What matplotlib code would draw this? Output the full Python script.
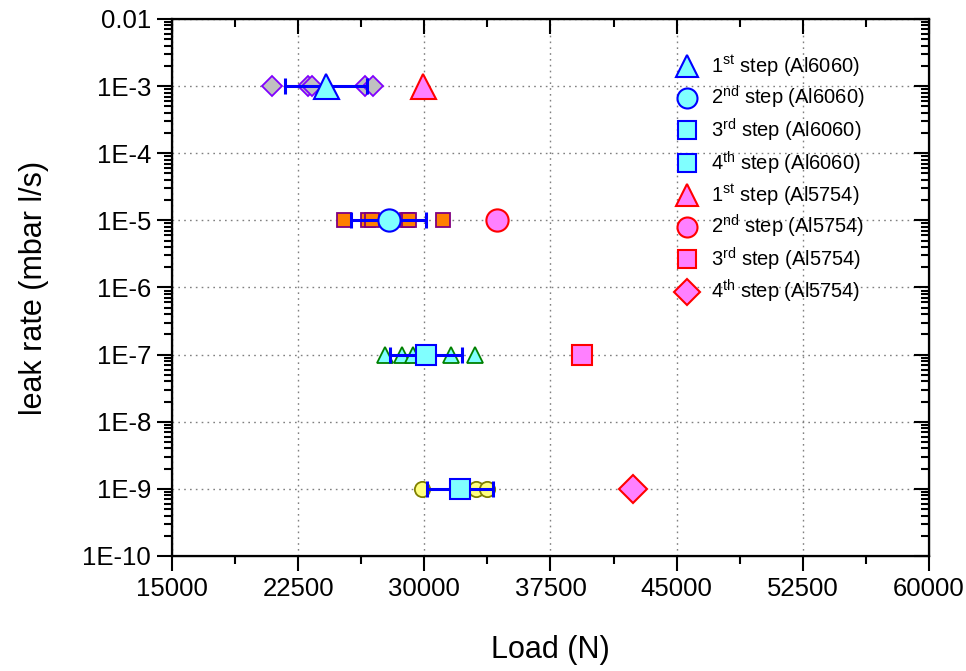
import numpy as np
import matplotlib.pyplot as plt
from matplotlib.ticker import FixedLocator, NullFormatter, LogLocator

plt.rcParams['font.family'] = ['Liberation Sans', 'DejaVu Sans']
plt.rcParams['mathtext.fontset'] = 'custom'
plt.rcParams['mathtext.rm'] = 'Liberation Sans'

# leak rate level of each sealing step
step_rates = [1e-3, 1e-5, 1e-7, 1e-9]

# individual Al6060 tests (load in N)
al6060_raw = [
    [20950, 23100, 23300, 26450, 26950],
    [25230, 26650, 26900, 28950, 29100, 31100],
    [27650, 28700, 29300, 31600, 33000],
    [29850, 33100, 33700],
]
# Al6060 mean load and standard deviation per step
al6060_mean = [24150, 27900, 30100, 32150]
al6060_err = [2450, 2230, 2150, 1960]

# Al5754 load per step
al5754_load = [29900, 34300, 39400, 42400]

xticks = [15000, 22500, 30000, 37500, 45000, 52500, 60000]
xminor = [18750, 26250, 33750, 41250, 48750, 56250]
yticks = [1e-10, 1e-9, 1e-8, 1e-7, 1e-6, 1e-5, 1e-4, 1e-3, 1e-2]
ylabels = ['1E-10', '1E-9', '1E-8', '1E-7', '1E-6', '1E-5', '1E-4', '1E-3', '0.01']

raw_styles = [
    dict(marker='D', ms=10.5, mfc='#C0C0C0', mec='#8000FF'),
    dict(marker='s', ms=9.5, mfc='#FF8000', mec='#800080'),
    dict(marker='^', ms=11, mfc='#80FFFF', mec='#008000'),
    dict(marker='o', ms=11, mfc='#FFFF80', mec='#808000'),
]
main_markers = ['^', 'o', 's', 's']
main_sizes = [18, 16, 15, 15]
al5754_markers = ['^', 'o', 's', 'D']
al5754_sizes = [18, 16, 15, 14.5]
ords = ['st', 'nd', 'rd', 'th']

fig = plt.figure(figsize=(9.66, 6.71), dpi=100)
ax = fig.add_axes([0.178, 0.1714, 0.7837, 0.8003])

for i, rate in enumerate(step_rates):
    xs = al6060_raw[i]
    ax.plot(xs, [rate] * len(xs), ls='none', mew=1.3, zorder=3, **raw_styles[i])
    ax.errorbar([al6060_mean[i]], [rate], xerr=[al6060_err[i]], fmt='none',
                ecolor='#0000FF', elinewidth=2.2, capsize=6, capthick=2.2, zorder=4)

handles = []
for i, rate in enumerate(step_rates):
    h, = ax.plot([al6060_mean[i]], [rate], ls='none', marker=main_markers[i],
                 ms=main_sizes[i], mfc='#80FFFF', mec='#0000FF', mew=1.5, zorder=5,
                 label=f'{i + 1}$^{{\\rm {ords[i]}}}$ step (Al6060)')
    handles.append(h)
for i, rate in enumerate(step_rates):
    h, = ax.plot([al5754_load[i]], [rate], ls='none', marker=al5754_markers[i],
                 ms=al5754_sizes[i], mfc='#FF80FF', mec='#FF0000', mew=1.5, zorder=5,
                 label=f'{i + 1}$^{{\\rm {ords[i]}}}$ step (Al5754)')
    handles.append(h)

ax.set_yscale('log')
ax.set_xlim(15000, 60000)
ax.set_ylim(1e-10, 1e-2)

ax.set_xticks(xticks)
ax.set_xticklabels([str(t) for t in xticks])
ax.xaxis.set_minor_locator(FixedLocator(xminor))
ax.yaxis.set_major_locator(FixedLocator(yticks))
ax.set_yticklabels(ylabels)
ax.yaxis.set_minor_locator(LogLocator(base=10, subs=np.arange(2, 10), numticks=20))
ax.yaxis.set_minor_formatter(NullFormatter())

ax.tick_params(which='major', length=11, width=1.5, labelsize=18.5, direction='out', pad=4)
ax.tick_params(which='minor', length=6, width=1.5, direction='out')
for sp in ax.spines.values():
    sp.set_linewidth(1.6)

# inward ticks on the right and top edges
ax2 = ax.twinx()
ax2.set_yscale('log')
ax2.set_ylim(ax.get_ylim())
ax2.yaxis.set_major_locator(FixedLocator(yticks))
ax2.yaxis.set_minor_locator(LogLocator(base=10, subs=np.arange(2, 10), numticks=20))
ax2.yaxis.set_major_formatter(NullFormatter())
ax2.yaxis.set_minor_formatter(NullFormatter())
ax2.tick_params(which='major', length=11, width=1.5, direction='in')
ax2.tick_params(which='minor', length=6, width=1.5, direction='in')

ax3 = ax.twiny()
ax3.set_xlim(ax.get_xlim())
ax3.set_xticks(xticks)
ax3.xaxis.set_minor_locator(FixedLocator(xminor))
ax3.set_xticklabels([])
ax3.tick_params(which='major', length=11, width=1.5, direction='in')
ax3.tick_params(which='minor', length=6, width=1.5, direction='in')

ax.grid(True, which='major', color='#808080', ls=(0, (1.2, 3)), lw=1)

ax.set_xlabel('Load (N)', fontsize=22)
ax.xaxis.set_label_coords(0.5, -0.148)
ax.set_ylabel('leak rate (mbar l/s)', fontsize=22)
ax.yaxis.set_label_coords(-0.162, 0.5)

ax.legend(handles=handles, loc='upper left', bbox_to_anchor=(0.64, 0.97),
          frameon=False, fontsize=14.5, handlelength=1.2, handletextpad=0.6,
          labelspacing=0.27, markerscale=0.9)

fig.savefig('out.png', dpi=100)
